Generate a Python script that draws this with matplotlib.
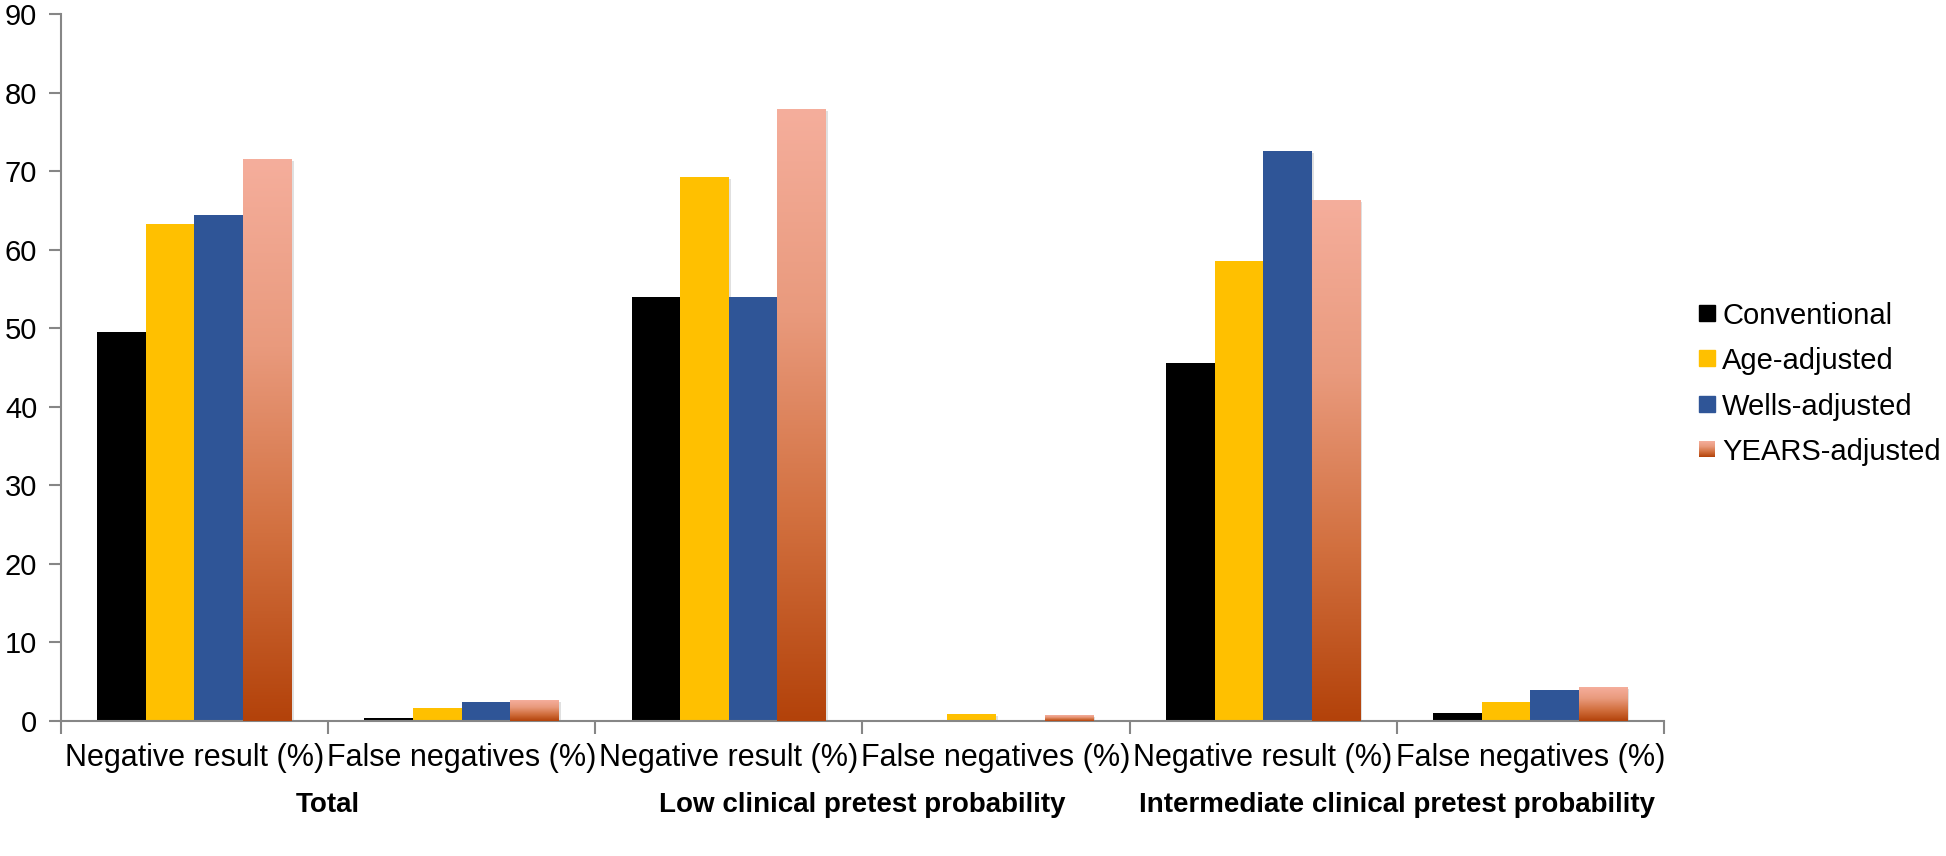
import numpy as np
import matplotlib.pyplot as plt
import matplotlib.patheffects as pe
from matplotlib.colors import LinearSegmentedColormap
from matplotlib.patches import Rectangle

groups = ['Total', 'Low clinical pretest probability',
          'Intermediate clinical pretest probability']
measures = ['Negative result (%)', 'False negatives (%)']
series = ['Conventional', 'Age-adjusted', 'Wells-adjusted', 'YEARS-adjusted']

# one value per category: (group, measure) pairs in order
conventional = [49.5, 0.4, 54.0, 0.0, 45.5, 1.0]
age_adjusted = [63.3, 1.6, 69.2, 0.9, 58.5, 2.4]
wells_adjusted = [64.4, 2.4, 54.0, 0.0, 72.6, 3.9]
years_adjusted = [71.5, 2.6, 77.9, 0.7, 66.3, 4.3]
y_ticks = [0, 10, 20, 30, 40, 50, 60, 70, 80, 90]

plt.rcParams['font.family'] = ['Liberation Sans', 'DejaVu Sans']

colors = ['#000000', '#FFC000', '#2F5597']
years_cmap = LinearSegmentedColormap.from_list(
    'years', ['#B3420A', '#D2703F', '#E99A7D', '#F5AE9C'])
grad = np.linspace(0, 1, 256).reshape(-1, 1)

fig = plt.figure(figsize=(19.46, 8.56), dpi=100)
ax = fig.add_axes([0.0313, 0.158, 0.855 - 0.0313, 0.9836 - 0.158])

n_cat = len(groups) * len(measures)
x = np.arange(n_cat) + 0.5
w = 1 / 5.5
shadow = [pe.SimplePatchShadow(offset=(1.5, -1.5), shadow_rgbFace='#999999', alpha=0.3),
          pe.Normal()]

for j, vals in enumerate([conventional, age_adjusted, wells_adjusted]):
    ax.bar(x + (j - 1.5) * w, vals, w, color=colors[j], zorder=2,
           path_effects=shadow)

# gradient bars for YEARS-adjusted
xs = x + 1.5 * w
bars = ax.bar(xs, years_adjusted, w, color='none', zorder=2, path_effects=shadow)
for b in bars:
    if b.get_height() <= 0:
        continue
    im = ax.imshow(grad, cmap=years_cmap, origin='lower', aspect='auto',
                   extent=[b.get_x(), b.get_x() + b.get_width(), 0, b.get_height()],
                   zorder=3)
    im.set_clip_path(b)

ax.set_xlim(0, n_cat)
ax.set_ylim(0, 90)
ax.set_yticks(y_ticks)
ax.tick_params(axis='y', labelsize=21, length=9, width=1.5, color='#868686', pad=8)

cat_labels = measures * len(groups)
ax.set_xticks(x)
ax.set_xticklabels(cat_labels, fontsize=22)
ax.set_xticks(np.arange(n_cat + 1), minor=True)
ax.tick_params(axis='x', which='major', length=0, pad=16)
ax.tick_params(axis='x', which='minor', length=9, width=1.5, color='#868686')

for s in ['top', 'right']:
    ax.spines[s].set_visible(False)
for s in ['left', 'bottom']:
    ax.spines[s].set_color('#868686')
    ax.spines[s].set_linewidth(1.5)

for g, name in enumerate(groups):
    ax.annotate(name, xy=(2 * g + 1, 0), xycoords=ax.get_xaxis_transform(),
                xytext=(0, -84 * 0.72), textcoords='offset points',
                ha='center', va='center', fontsize=20, fontweight='bold')

# legend drawn in figure pixel space
lg = fig.add_axes([0, 0, 1, 1])
lg.set_xlim(0, 1946)
lg.set_ylim(856, 0)
lg.axis('off')
row_y = [313, 358, 404, 449]
for k, name in enumerate(series):
    y0 = row_y[k]
    if k < 3:
        lg.add_patch(Rectangle((1699, y0 - 8), 16, 16, color=colors[k]))
    else:
        lg.imshow(grad, cmap=years_cmap, origin='lower', aspect='auto',
                  extent=[1699, 1715, y0 + 8, y0 - 8])
    lg.text(1722, y0, name, fontsize=21, va='center_baseline', ha='left')
lg.set_xlim(0, 1946)
lg.set_ylim(856, 0)

fig.savefig('out.png', dpi=100)
